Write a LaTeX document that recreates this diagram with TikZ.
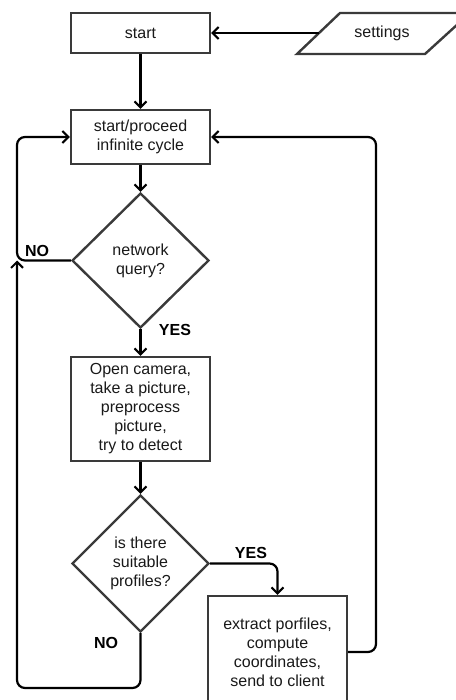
\documentclass[tikz,border=0pt]{standalone}
\usepackage{fontspec}
\setmainfont{Liberation Sans}
\usetikzlibrary{shapes.geometric,arrows.meta}
\definecolor{boxline}{HTML}{3a3a3a}
\begin{document}
\begin{tikzpicture}[x=1pt,y=-1pt,
  every node/.style={font=\fontsize{16}{19}\selectfont, text=black!90, align=center},
  procbox/.style={draw=boxline, line width=2.4pt, rectangle, inner sep=0pt, minimum width=139pt},
  decbox/.style={draw=boxline, line width=2.4pt, diamond, inner sep=0pt, minimum width=137pt},
  arr/.style={draw=black, line width=2.2pt, -{Straight Barb[length=6pt,width=12pt,line width=2pt]}, rounded corners=8pt},
  lbl/.style={font=\fontsize{16}{19}\selectfont\bfseries, text=black}
]
\useasboundingbox (0,0) rectangle (455,700);

\node[procbox, minimum height=40pt] (start) at (140.5,33) {start};
\node[procbox, minimum height=54pt] (proceed) at (140.5,137) {start/proceed\\infinite cycle};
\node[decbox, minimum height=135pt] (d1) at (140.5,260.5) {network\\query?};
\node[procbox, minimum height=104pt] (box2) at (140.5,409) {Open camera,\\take a picture,\\preprocess\\picture,\\try to detect};
\node[decbox, minimum height=137pt] (d2) at (140.5,563.5) {is there\\suitable\\profiles?};
\node[procbox, minimum height=112pt] (box3) at (277.5,652) {extract porfiles,\\compute\\coordinates,\\send to client};

% settings parallelogram
\draw[draw=boxline, line width=2.4pt, fill=white] (297,54) -- (340,13) -- (470,13) -- (425,54) -- cycle;
\node (settings) at (382,33) {settings};
\coordinate (setl) at (318.5,33);

\coordinate (lx) at (17,0);
\coordinate (rx) at (376,0);
\coordinate (bot) at (0,688);

\draw[arr] (setl) -- (start.east);
\draw[arr] (start) -- (proceed);
\draw[arr] (proceed) -- (d1);
\draw[arr] (d1.west) -- (lx |- d1.west) -- (lx |- proceed.west) -- (proceed.west);
\node[lbl] (no1) at (37,251) {NO};
\draw[arr] (d1) -- (box2);
\node[lbl] (yes1) at (175,330) {YES};
\draw[arr] (box2) -- (d2);
\draw[arr] (d2.east) -| (box3.north);
\node[lbl] (yes2) at (251,553) {YES};
\node[lbl] (no2) at (106,643) {NO};
\draw[arr] (d2.south) -- (d2.south |- bot) -- (lx |- bot) -- (lx |- d1.west);
\draw[arr] (box3.east) -- (rx |- box3.east) -- (rx |- proceed.east) -- (proceed.east);
\end{tikzpicture}
\end{document}
